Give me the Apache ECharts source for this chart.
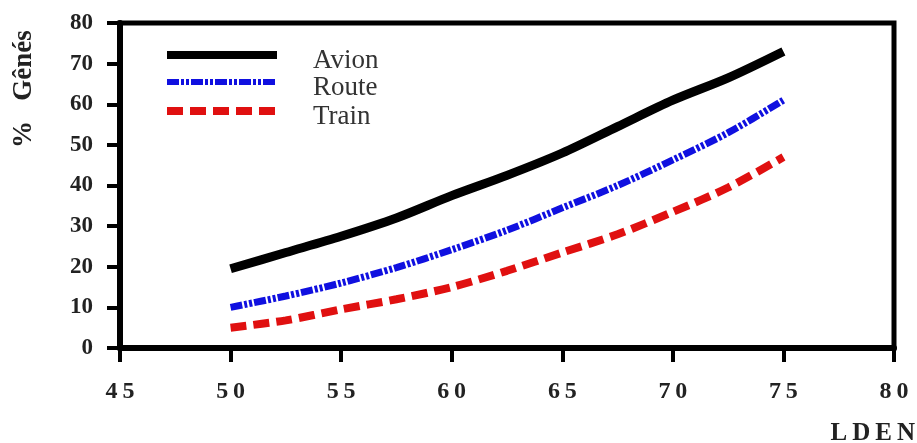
<!DOCTYPE html>
<html>
<head>
<meta charset="utf-8">
<script src="https://cdn.jsdelivr.net/npm/echarts@6/dist/echarts.min.js"></script>
<style>
  html, body { margin: 0; padding: 0; background: #fff; }
  #chart { width: 917px; height: 443px; }
</style>
</head>
<body>
<div id="chart"></div>
<script>
// LDEN values (dB)
var lden = [50, 52.5, 55, 57.5, 60, 62.5, 65, 67.5, 70, 72.5, 75];
// % gênés
var avion = [19.5, 23.5, 27.5, 32, 37.5, 42.5, 48, 54.5, 61, 66.5, 73];
var route = [10, 12.8, 16, 19.8, 24.2, 29, 34.5, 40, 46.3, 53, 61];
var train = [5, 6.8, 9.5, 12, 15, 19, 23.5, 28, 33.5, 39.5, 47];
var seriesNames = ['Avion', 'Route', 'Train'];

var serif = '"Liberation Serif", "DejaVu Serif", serif';
var colors = ['#000', '#1010e0', '#e01010'];
var widths = [9, 7, 8];
var dashes = ['solid', [12, 2, 3, 2, 3, 2], [16, 7]];

function pairs(ys) {
  return lden.map(function (x, i) { return [x, ys[i]]; });
}
function spaced(s) {
  return String(s).split('').join('\u2009');
}

// legend drawn by hand: the key line sits a little above its label
var legendLineY = [55, 82, 111];
var legendGraphics = [];
seriesNames.forEach(function (name, i) {
  legendGraphics.push({
    type: 'line',
    shape: { x1: 167, y1: legendLineY[i], x2: 277, y2: legendLineY[i] },
    style: {
      stroke: colors[i], lineWidth: i === 1 ? 6 : 8,
      lineDash: dashes[i] === 'solid' ? null : dashes[i]
    }
  });
  legendGraphics.push({
    type: 'text', x: 313, y: legendLineY[i] + 6,
    style: {
      text: name, fontFamily: serif, fontSize: 27, fill: '#333',
      verticalAlign: 'middle', align: 'left'
    }
  });
});

var chart = echarts.init(document.getElementById('chart'), null, { renderer: 'canvas' });

var option = {
  backgroundColor: '#fff',
  animation: false,
  grid: {
    left: 120, top: 23, right: 23, bottom: 95,
    show: true, borderColor: '#000', borderWidth: 5, backgroundColor: 'transparent'
  },
  xAxis: {
    type: 'value', min: 45, max: 80, interval: 5,
    axisLine: { lineStyle: { color: '#000', width: 6 } },
    axisTick: { length: 14, lineStyle: { color: '#000', width: 4 } },
    splitLine: { show: false },
    axisLabel: {
      margin: 32, color: '#222', fontFamily: serif, fontWeight: 'bold', fontSize: 24,
      formatter: spaced
    }
  },
  yAxis: {
    type: 'value', min: 0, max: 80, interval: 10,
    axisLine: { lineStyle: { color: '#000', width: 6 } },
    axisTick: { length: 13, lineStyle: { color: '#000', width: 4 } },
    splitLine: { show: false },
    axisLabel: { margin: 27, color: '#222', fontFamily: serif, fontWeight: 'bold', fontSize: 23 }
  },
  graphic: legendGraphics.concat([
    {
      type: 'text', x: 11, y: 148, rotation: Math.PI / 2,
      style: { text: '%   Gênés', fontFamily: serif, fontWeight: 'bold', fontSize: 27, fill: '#222' }
    },
    {
      type: 'text', right: 2, top: 421,
      style: { text: spaced('LDEN'), fontFamily: serif, fontWeight: 'bold', fontSize: 25, fill: '#222' }
    }
  ]),
  series: [avion, route, train].map(function (ys, i) {
    return {
      name: seriesNames[i], type: 'line', smooth: 0.3, showSymbol: false, symbol: 'none',
      data: pairs(ys),
      itemStyle: { color: colors[i] },
      lineStyle: { color: colors[i], width: widths[i], type: dashes[i] }
    };
  })
};

chart.setOption(option);
</script>
</body>
</html>
